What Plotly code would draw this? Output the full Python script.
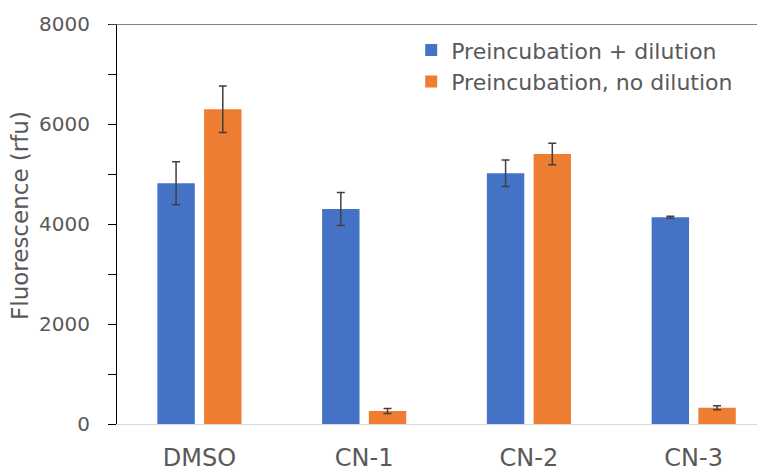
import plotly.graph_objects as go

categories = ["DMSO", "CN-1", "CN-2", "CN-3"]
dilution = [4814, 4300, 5014, 4134]
dilution_err = [430, 330, 265, 20]
no_dilution = [6294, 260, 5400, 326]
no_dilution_err = [465, 50, 215, 40]
series_names = ["Preincubation + dilution", "Preincubation, no dilution"]
y_ticks = [0, 2000, 4000, 6000, 8000]
y_title = "Fluorescence (rfu)"

BLUE = "#4472C4"
ORANGE = "#ED7D31"
TEXT = "#595959"
FONT = "DejaVu Sans"

fig = go.Figure()
fig.add_trace(go.Bar(
    x=categories, y=dilution, name=series_names[0],
    marker=dict(color=BLUE, line=dict(width=0)),
    width=0.227, offset=-0.255,
    error_y=dict(type="data", array=dilution_err, visible=True,
                 color="#404040", thickness=1.5, width=4),
))
fig.add_trace(go.Bar(
    x=categories, y=no_dilution, name=series_names[1],
    marker=dict(color=ORANGE, line=dict(width=0)),
    width=0.227, offset=0.0286,
    error_y=dict(type="data", array=no_dilution_err, visible=True,
                 color="#404040", thickness=1.5, width=4),
))

fig.add_shape(type="line", xref="paper", yref="y",
              x0=-0.0125, x1=1, y0=8000, y1=8000,
              line=dict(color="#595959", width=1.5), layer="above")

fig.add_annotation(text=y_title, textangle=-90,
                   xref="paper", yref="paper", x=-0.1497, y=0.5225,
                   xanchor="center", yanchor="middle", showarrow=False,
                   font=dict(size=23, color=TEXT, family=FONT))

fig.update_layout(
    width=757, height=464,
    margin=dict(l=109, r=0, t=16, b=48),
    paper_bgcolor="white", plot_bgcolor="white",
    font=dict(family=FONT, color=TEXT, size=20),
    barmode="group",
    showlegend=True,
    legend=dict(x=0.454, y=0.987, xanchor="left", yanchor="top",
                font=dict(size=22, color=TEXT, family=FONT),
                bgcolor="rgba(0,0,0,0)", tracegroupgap=0,
                itemwidth=30),
    xaxis=dict(
        type="category", range=[-0.5, 3.433], automargin=False,
        showline=True, linecolor="#D9D9D9", linewidth=1,
        showgrid=False, zeroline=False,
        ticks="outside", ticklen=12, tickcolor="rgba(0,0,0,0)",
        tickfont=dict(size=24, color=TEXT, family=FONT),
    ),
    yaxis=dict(
        range=[0, 8000], tickvals=y_ticks, automargin=False,
        showline=True, linecolor="black", linewidth=1.2,
        showgrid=False, zeroline=False,
        ticks="outside", ticklen=8, tickcolor="black", tickwidth=1,
        minor=dict(dtick=1000, ticks="outside", ticklen=8, tickcolor="black", tickwidth=1),
        ticklabelstandoff=14,
        tickfont=dict(size=20, color=TEXT, family=FONT),
    ),
)

fig.write_html("out.html")
